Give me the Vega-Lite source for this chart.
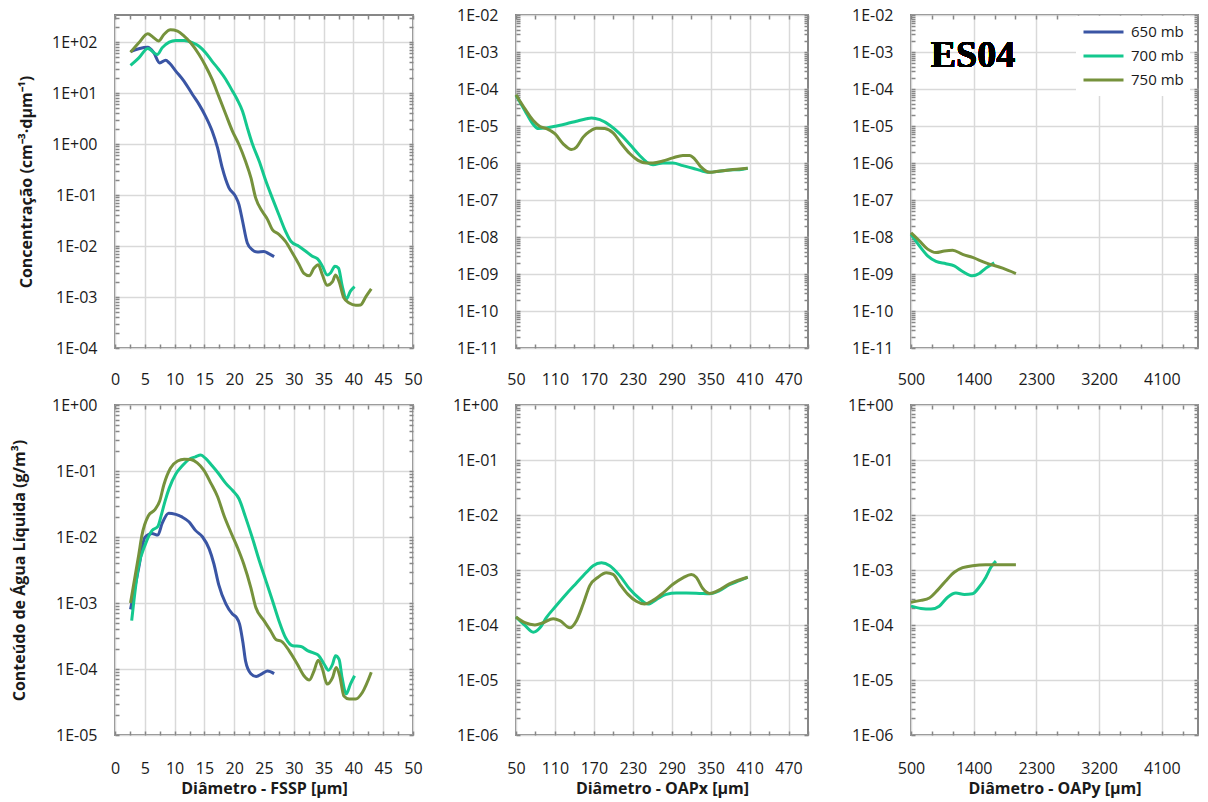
{
"$schema": "https://vega.github.io/schema/vega-lite/v6.json",
"background": "white",
"padding": {"left": 10, "top": 6, "right": 5, "bottom": 5},
"config": {
  "font": "Open Sans",
  "view": {"stroke": "#878787", "strokeWidth": 2},
  "axis": {"domain": false, "gridColor": "#D9D9D9", "gridWidth": 1.5, "tickColor": "#878787", "tickWidth": 1.5, "tickSize": -4, "labelFont": "Open Sans", "labelFontSize": 16, "labelColor": "#1a1a1a", "labelOverlap": false, "labelFlush": false, "titleFont": "Open Sans", "titleFontSize": 16, "titleFontWeight": "bold", "titleColor": "#1a1a1a"},
  "line": {"strokeWidth": 3, "interpolate": "monotone"}
},
"data": {"values": [
{"p":"c1","s":"650 mb","d":2.6,"v":65},{"p":"c1","s":"650 mb","d":4,"v":74},{"p":"c1","s":"650 mb","d":5.5,"v":79},{"p":"c1","s":"650 mb","d":6.5,"v":62},{"p":"c1","s":"650 mb","d":7.5,"v":39},{"p":"c1","s":"650 mb","d":8.5,"v":44},{"p":"c1","s":"650 mb","d":9.1,"v":39},{"p":"c1","s":"650 mb","d":10.2,"v":27},{"p":"c1","s":"650 mb","d":11.6,"v":17},{"p":"c1","s":"650 mb","d":13,"v":9.4},{"p":"c1","s":"650 mb","d":14.1,"v":6},{"p":"c1","s":"650 mb","d":15.2,"v":3.5},{"p":"c1","s":"650 mb","d":16.3,"v":1.8},{"p":"c1","s":"650 mb","d":17.2,"v":0.85},{"p":"c1","s":"650 mb","d":18,"v":0.34},{"p":"c1","s":"650 mb","d":19.1,"v":0.14},{"p":"c1","s":"650 mb","d":20.2,"v":0.095},{"p":"c1","s":"650 mb","d":20.8,"v":0.065},{"p":"c1","s":"650 mb","d":21.4,"v":0.031},{"p":"c1","s":"650 mb","d":22.2,"v":0.0115},{"p":"c1","s":"650 mb","d":23,"v":0.0085},{"p":"c1","s":"650 mb","d":23.9,"v":0.0076},{"p":"c1","s":"650 mb","d":25,"v":0.0078},{"p":"c1","s":"650 mb","d":25.8,"v":0.0071},{"p":"c1","s":"650 mb","d":26.7,"v":0.0062},
{"p":"c1","s":"700 mb","d":2.6,"v":35},{"p":"c1","s":"700 mb","d":4,"v":49},{"p":"c1","s":"700 mb","d":5.5,"v":75},{"p":"c1","s":"700 mb","d":7.1,"v":57},{"p":"c1","s":"700 mb","d":7.9,"v":77},{"p":"c1","s":"700 mb","d":9.1,"v":100},{"p":"c1","s":"700 mb","d":10.2,"v":108},{"p":"c1","s":"700 mb","d":11.6,"v":108},{"p":"c1","s":"700 mb","d":13,"v":97},{"p":"c1","s":"700 mb","d":14.1,"v":83},{"p":"c1","s":"700 mb","d":15.2,"v":62},{"p":"c1","s":"700 mb","d":16.3,"v":42},{"p":"c1","s":"700 mb","d":17.4,"v":29},{"p":"c1","s":"700 mb","d":18.6,"v":18.5},{"p":"c1","s":"700 mb","d":19.7,"v":11},{"p":"c1","s":"700 mb","d":20.5,"v":7.5},{"p":"c1","s":"700 mb","d":21.4,"v":4.4},{"p":"c1","s":"700 mb","d":22.2,"v":2.1},{"p":"c1","s":"700 mb","d":23,"v":1.05},{"p":"c1","s":"700 mb","d":24.2,"v":0.46},{"p":"c1","s":"700 mb","d":25.3,"v":0.19},{"p":"c1","s":"700 mb","d":26.4,"v":0.087},{"p":"c1","s":"700 mb","d":27.5,"v":0.041},{"p":"c1","s":"700 mb","d":28.6,"v":0.0196},{"p":"c1","s":"700 mb","d":29.5,"v":0.0124},{"p":"c1","s":"700 mb","d":30.9,"v":0.0098},{"p":"c1","s":"700 mb","d":32,"v":0.0079},{"p":"c1","s":"700 mb","d":33.1,"v":0.0063},{"p":"c1","s":"700 mb","d":34,"v":0.0056},{"p":"c1","s":"700 mb","d":34.8,"v":0.004},{"p":"c1","s":"700 mb","d":35.6,"v":0.0027},{"p":"c1","s":"700 mb","d":36.2,"v":0.003},{"p":"c1","s":"700 mb","d":36.9,"v":0.004},{"p":"c1","s":"700 mb","d":37.5,"v":0.0037},{"p":"c1","s":"700 mb","d":38.1,"v":0.0017},{"p":"c1","s":"700 mb","d":38.8,"v":0.00091},{"p":"c1","s":"700 mb","d":39.5,"v":0.0013},{"p":"c1","s":"700 mb","d":40.2,"v":0.0016},
{"p":"c1","s":"750 mb","d":2.6,"v":63},{"p":"c1","s":"750 mb","d":4,"v":97},{"p":"c1","s":"750 mb","d":5.5,"v":146},{"p":"c1","s":"750 mb","d":6.4,"v":125},{"p":"c1","s":"750 mb","d":7.3,"v":105},{"p":"c1","s":"750 mb","d":8.2,"v":141},{"p":"c1","s":"750 mb","d":9.3,"v":174},{"p":"c1","s":"750 mb","d":10.5,"v":164},{"p":"c1","s":"750 mb","d":11.6,"v":131},{"p":"c1","s":"750 mb","d":12.7,"v":97},{"p":"c1","s":"750 mb","d":14.1,"v":57},{"p":"c1","s":"750 mb","d":15.2,"v":34},{"p":"c1","s":"750 mb","d":16.3,"v":18.5},{"p":"c1","s":"750 mb","d":17.4,"v":8.7},{"p":"c1","s":"750 mb","d":18.6,"v":3.8},{"p":"c1","s":"750 mb","d":19.7,"v":1.8},{"p":"c1","s":"750 mb","d":20.8,"v":0.98},{"p":"c1","s":"750 mb","d":21.9,"v":0.46},{"p":"c1","s":"750 mb","d":22.8,"v":0.22},{"p":"c1","s":"750 mb","d":23.6,"v":0.088},{"p":"c1","s":"750 mb","d":24.7,"v":0.048},{"p":"c1","s":"750 mb","d":25.6,"v":0.033},{"p":"c1","s":"750 mb","d":26.4,"v":0.021},{"p":"c1","s":"750 mb","d":27.5,"v":0.017},{"p":"c1","s":"750 mb","d":28.6,"v":0.0123},{"p":"c1","s":"750 mb","d":29.8,"v":0.0072},{"p":"c1","s":"750 mb","d":30.9,"v":0.0043},{"p":"c1","s":"750 mb","d":31.7,"v":0.0029},{"p":"c1","s":"750 mb","d":32.6,"v":0.0026},{"p":"c1","s":"750 mb","d":33.4,"v":0.0037},{"p":"c1","s":"750 mb","d":34.1,"v":0.0043},{"p":"c1","s":"750 mb","d":34.8,"v":0.0027},{"p":"c1","s":"750 mb","d":35.6,"v":0.0017},{"p":"c1","s":"750 mb","d":36.5,"v":0.002},{"p":"c1","s":"750 mb","d":37,"v":0.0027},{"p":"c1","s":"750 mb","d":37.6,"v":0.002},{"p":"c1","s":"750 mb","d":38.4,"v":0.00096},{"p":"c1","s":"750 mb","d":39.3,"v":0.00076},{"p":"c1","s":"750 mb","d":40.4,"v":0.00069},{"p":"c1","s":"750 mb","d":41.2,"v":0.0007},{"p":"c1","s":"750 mb","d":42.1,"v":0.00102},{"p":"c1","s":"750 mb","d":43,"v":0.00145},
{"p":"c2","s":"700 mb","d":50,"v":6.8e-5},{"p":"c2","s":"700 mb","d":63.8,"v":2.6e-5},{"p":"c2","s":"700 mb","d":76.6,"v":1.1e-5},{"p":"c2","s":"700 mb","d":84.3,"v":8.5e-6},{"p":"c2","s":"700 mb","d":97.1,"v":8.9e-6},{"p":"c2","s":"700 mb","d":112.5,"v":1.0e-5},{"p":"c2","s":"700 mb","d":127.9,"v":1.15e-5},{"p":"c2","s":"700 mb","d":143.2,"v":1.35e-5},{"p":"c2","s":"700 mb","d":158.6,"v":1.57e-5},{"p":"c2","s":"700 mb","d":166.3,"v":1.65e-5},{"p":"c2","s":"700 mb","d":179.1,"v":1.48e-5},{"p":"c2","s":"700 mb","d":194.5,"v":1.05e-5},{"p":"c2","s":"700 mb","d":209.8,"v":6.2e-6},{"p":"c2","s":"700 mb","d":225.2,"v":3.2e-6},{"p":"c2","s":"700 mb","d":240.6,"v":1.6e-6},{"p":"c2","s":"700 mb","d":253.4,"v":1.0e-6},{"p":"c2","s":"700 mb","d":261.1,"v":9e-7},{"p":"c2","s":"700 mb","d":276.4,"v":1.0e-6},{"p":"c2","s":"700 mb","d":291.8,"v":1.0e-6},{"p":"c2","s":"700 mb","d":307.2,"v":8.5e-7},{"p":"c2","s":"700 mb","d":322.5,"v":7.2e-7},{"p":"c2","s":"700 mb","d":337.9,"v":6e-7},{"p":"c2","s":"700 mb","d":348.2,"v":5.6e-7},{"p":"c2","s":"700 mb","d":363.5,"v":6e-7},{"p":"c2","s":"700 mb","d":378.9,"v":6.5e-7},{"p":"c2","s":"700 mb","d":394.3,"v":6.6e-7},{"p":"c2","s":"700 mb","d":407.1,"v":7.2e-7},
{"p":"c2","s":"750 mb","d":50,"v":7.0e-5},{"p":"c2","s":"750 mb","d":63.8,"v":2.9e-5},{"p":"c2","s":"750 mb","d":76.6,"v":1.4e-5},{"p":"c2","s":"750 mb","d":86.9,"v":9.7e-6},{"p":"c2","s":"750 mb","d":97.1,"v":8.5e-6},{"p":"c2","s":"750 mb","d":109.9,"v":6.2e-6},{"p":"c2","s":"750 mb","d":122.7,"v":3.3e-6},{"p":"c2","s":"750 mb","d":135.5,"v":2.3e-6},{"p":"c2","s":"750 mb","d":143.2,"v":2.7e-6},{"p":"c2","s":"750 mb","d":153.5,"v":5e-6},{"p":"c2","s":"750 mb","d":163.7,"v":7.2e-6},{"p":"c2","s":"750 mb","d":174,"v":8.7e-6},{"p":"c2","s":"750 mb","d":186.8,"v":8.5e-6},{"p":"c2","s":"750 mb","d":199.6,"v":6.5e-6},{"p":"c2","s":"750 mb","d":212.4,"v":3.3e-6},{"p":"c2","s":"750 mb","d":225.2,"v":1.8e-6},{"p":"c2","s":"750 mb","d":238,"v":1.18e-6},{"p":"c2","s":"750 mb","d":250.8,"v":1.0e-6},{"p":"c2","s":"750 mb","d":261.1,"v":1.0e-6},{"p":"c2","s":"750 mb","d":276.4,"v":1.13e-6},{"p":"c2","s":"750 mb","d":291.8,"v":1.38e-6},{"p":"c2","s":"750 mb","d":307.2,"v":1.6e-6},{"p":"c2","s":"750 mb","d":317.4,"v":1.6e-6},{"p":"c2","s":"750 mb","d":325.1,"v":1.3e-6},{"p":"c2","s":"750 mb","d":335.4,"v":7.7e-7},{"p":"c2","s":"750 mb","d":348.2,"v":5.6e-7},{"p":"c2","s":"750 mb","d":361,"v":6e-7},{"p":"c2","s":"750 mb","d":378.9,"v":6.5e-7},{"p":"c2","s":"750 mb","d":407.1,"v":7.2e-7},
{"p":"c3","s":"700 mb","d":500,"v":1.2e-8},{"p":"c3","s":"700 mb","d":620,"v":5.8e-9},{"p":"c3","s":"700 mb","d":739,"v":3.1e-9},{"p":"c3","s":"700 mb","d":859,"v":2.2e-9},{"p":"c3","s":"700 mb","d":1002,"v":1.9e-9},{"p":"c3","s":"700 mb","d":1121,"v":1.65e-9},{"p":"c3","s":"700 mb","d":1241,"v":1.17e-9},{"p":"c3","s":"700 mb","d":1384,"v":8.9e-10},{"p":"c3","s":"700 mb","d":1480,"v":1.03e-9},{"p":"c3","s":"700 mb","d":1575,"v":1.44e-9},{"p":"c3","s":"700 mb","d":1695,"v":2.0e-9},
{"p":"c3","s":"750 mb","d":500,"v":1.3e-8},{"p":"c3","s":"750 mb","d":620,"v":7.9e-9},{"p":"c3","s":"750 mb","d":739,"v":4.7e-9},{"p":"c3","s":"750 mb","d":859,"v":3.8e-9},{"p":"c3","s":"750 mb","d":978,"v":4.2e-9},{"p":"c3","s":"750 mb","d":1098,"v":4.4e-9},{"p":"c3","s":"750 mb","d":1241,"v":3.4e-9},{"p":"c3","s":"750 mb","d":1384,"v":2.8e-9},{"p":"c3","s":"750 mb","d":1575,"v":2.0e-9},{"p":"c3","s":"750 mb","d":1815,"v":1.44e-9},{"p":"c3","s":"750 mb","d":2006,"v":1.03e-9},
{"p":"w1","s":"650 mb","d":2.6,"v":0.0008},{"p":"w1","s":"650 mb","d":4,"v":0.0035},{"p":"w1","s":"650 mb","d":5,"v":0.0098},{"p":"w1","s":"650 mb","d":6.2,"v":0.0113},{"p":"w1","s":"650 mb","d":7.2,"v":0.0107},{"p":"w1","s":"650 mb","d":7.9,"v":0.016},{"p":"w1","s":"650 mb","d":9,"v":0.023},{"p":"w1","s":"650 mb","d":10.2,"v":0.022},{"p":"w1","s":"650 mb","d":11.3,"v":0.02},{"p":"w1","s":"650 mb","d":12.4,"v":0.017},{"p":"w1","s":"650 mb","d":13.5,"v":0.0126},{"p":"w1","s":"650 mb","d":14.7,"v":0.01},{"p":"w1","s":"650 mb","d":15.8,"v":0.0066},{"p":"w1","s":"650 mb","d":16.6,"v":0.0039},{"p":"w1","s":"650 mb","d":17.4,"v":0.0019},{"p":"w1","s":"650 mb","d":18.6,"v":0.00097},{"p":"w1","s":"650 mb","d":19.7,"v":0.00068},{"p":"w1","s":"650 mb","d":20.4,"v":0.0006},{"p":"w1","s":"650 mb","d":20.9,"v":0.00048},{"p":"w1","s":"650 mb","d":21.5,"v":0.00024},{"p":"w1","s":"650 mb","d":21.9,"v":0.000133},{"p":"w1","s":"650 mb","d":22.8,"v":0.000085},{"p":"w1","s":"650 mb","d":23.7,"v":0.000077},{"p":"w1","s":"650 mb","d":24.7,"v":0.000085},{"p":"w1","s":"650 mb","d":25.6,"v":0.000093},{"p":"w1","s":"650 mb","d":26.7,"v":0.000085},
{"p":"w1","s":"700 mb","d":2.8,"v":0.00054},{"p":"w1","s":"700 mb","d":3.9,"v":0.0034},{"p":"w1","s":"700 mb","d":5.1,"v":0.0078},{"p":"w1","s":"700 mb","d":6.2,"v":0.0125},{"p":"w1","s":"700 mb","d":7.2,"v":0.0145},{"p":"w1","s":"700 mb","d":7.8,"v":0.022},{"p":"w1","s":"700 mb","d":8.4,"v":0.035},{"p":"w1","s":"700 mb","d":9.1,"v":0.055},{"p":"w1","s":"700 mb","d":10.2,"v":0.09},{"p":"w1","s":"700 mb","d":11.3,"v":0.12},{"p":"w1","s":"700 mb","d":12.4,"v":0.15},{"p":"w1","s":"700 mb","d":13.5,"v":0.164},{"p":"w1","s":"700 mb","d":14.4,"v":0.174},{"p":"w1","s":"700 mb","d":15.2,"v":0.155},{"p":"w1","s":"700 mb","d":16.3,"v":0.12},{"p":"w1","s":"700 mb","d":17.4,"v":0.091},{"p":"w1","s":"700 mb","d":18.6,"v":0.065},{"p":"w1","s":"700 mb","d":19.7,"v":0.051},{"p":"w1","s":"700 mb","d":20.8,"v":0.038},{"p":"w1","s":"700 mb","d":21.9,"v":0.02},{"p":"w1","s":"700 mb","d":23,"v":0.01},{"p":"w1","s":"700 mb","d":24.2,"v":0.0044},{"p":"w1","s":"700 mb","d":25.3,"v":0.0022},{"p":"w1","s":"700 mb","d":26.4,"v":0.0011},{"p":"w1","s":"700 mb","d":27.5,"v":0.00054},{"p":"w1","s":"700 mb","d":28.6,"v":0.0003},{"p":"w1","s":"700 mb","d":29.8,"v":0.000225},{"p":"w1","s":"700 mb","d":31.2,"v":0.00022},{"p":"w1","s":"700 mb","d":32.3,"v":0.00019},{"p":"w1","s":"700 mb","d":33.4,"v":0.000174},{"p":"w1","s":"700 mb","d":34.2,"v":0.000159},{"p":"w1","s":"700 mb","d":35.1,"v":0.000118},{"p":"w1","s":"700 mb","d":35.8,"v":0.000096},{"p":"w1","s":"700 mb","d":36.5,"v":0.000118},{"p":"w1","s":"700 mb","d":37,"v":0.000159},{"p":"w1","s":"700 mb","d":37.6,"v":0.00014},{"p":"w1","s":"700 mb","d":38.1,"v":0.000074},{"p":"w1","s":"700 mb","d":38.8,"v":0.000042},{"p":"w1","s":"700 mb","d":39.5,"v":0.000059},{"p":"w1","s":"700 mb","d":40.2,"v":0.000079},
{"p":"w1","s":"750 mb","d":2.6,"v":0.001},{"p":"w1","s":"750 mb","d":4,"v":0.0055},{"p":"w1","s":"750 mb","d":4.5,"v":0.0104},{"p":"w1","s":"750 mb","d":5.6,"v":0.021},{"p":"w1","s":"750 mb","d":6.7,"v":0.026},{"p":"w1","s":"750 mb","d":7.5,"v":0.035},{"p":"w1","s":"750 mb","d":8.2,"v":0.062},{"p":"w1","s":"750 mb","d":9.3,"v":0.11},{"p":"w1","s":"750 mb","d":10.5,"v":0.142},{"p":"w1","s":"750 mb","d":11.6,"v":0.151},{"p":"w1","s":"750 mb","d":12.7,"v":0.149},{"p":"w1","s":"750 mb","d":13.8,"v":0.133},{"p":"w1","s":"750 mb","d":14.9,"v":0.103},{"p":"w1","s":"750 mb","d":16.1,"v":0.065},{"p":"w1","s":"750 mb","d":17.2,"v":0.041},{"p":"w1","s":"750 mb","d":18.3,"v":0.021},{"p":"w1","s":"750 mb","d":19.4,"v":0.012},{"p":"w1","s":"750 mb","d":20.5,"v":0.0071},{"p":"w1","s":"750 mb","d":21.6,"v":0.0039},{"p":"w1","s":"750 mb","d":22.8,"v":0.0017},{"p":"w1","s":"750 mb","d":23.6,"v":0.00087},{"p":"w1","s":"750 mb","d":25,"v":0.00054},{"p":"w1","s":"750 mb","d":26.1,"v":0.00038},{"p":"w1","s":"750 mb","d":27,"v":0.00028},{"p":"w1","s":"750 mb","d":28,"v":0.00026},{"p":"w1","s":"750 mb","d":29.2,"v":0.00019},{"p":"w1","s":"750 mb","d":30.6,"v":0.000118},{"p":"w1","s":"750 mb","d":31.7,"v":0.000079},{"p":"w1","s":"750 mb","d":32.6,"v":0.000068},{"p":"w1","s":"750 mb","d":33.4,"v":0.000094},{"p":"w1","s":"750 mb","d":34.1,"v":0.000136},{"p":"w1","s":"750 mb","d":34.8,"v":0.0001},{"p":"w1","s":"750 mb","d":35.6,"v":0.000059},{"p":"w1","s":"750 mb","d":36.5,"v":0.000074},{"p":"w1","s":"750 mb","d":37.1,"v":0.000105},{"p":"w1","s":"750 mb","d":37.7,"v":0.000079},{"p":"w1","s":"750 mb","d":38.4,"v":0.000039},{"p":"w1","s":"750 mb","d":39.3,"v":0.000035},{"p":"w1","s":"750 mb","d":40.4,"v":0.000035},{"p":"w1","s":"750 mb","d":41.5,"v":0.000044},{"p":"w1","s":"750 mb","d":43,"v":0.000089},
{"p":"w2","s":"700 mb","d":50,"v":1.4e-4},{"p":"w2","s":"700 mb","d":63.8,"v":9.8e-5},{"p":"w2","s":"700 mb","d":76.6,"v":7.4e-5},{"p":"w2","s":"700 mb","d":86.9,"v":8.9e-5},{"p":"w2","s":"700 mb","d":97.1,"v":1.38e-4},{"p":"w2","s":"700 mb","d":109.9,"v":2.1e-4},{"p":"w2","s":"700 mb","d":127.9,"v":3.7e-4},{"p":"w2","s":"700 mb","d":143.2,"v":5.8e-4},{"p":"w2","s":"700 mb","d":158.6,"v":9.1e-4},{"p":"w2","s":"700 mb","d":168.9,"v":1.2e-3},{"p":"w2","s":"700 mb","d":181.7,"v":1.35e-3},{"p":"w2","s":"700 mb","d":194.5,"v":1.2e-3},{"p":"w2","s":"700 mb","d":209.8,"v":7.9e-4},{"p":"w2","s":"700 mb","d":225.2,"v":4.5e-4},{"p":"w2","s":"700 mb","d":240.6,"v":3e-4},{"p":"w2","s":"700 mb","d":253.4,"v":2.4e-4},{"p":"w2","s":"700 mb","d":266.2,"v":2.9e-4},{"p":"w2","s":"700 mb","d":281.6,"v":3.6e-4},{"p":"w2","s":"700 mb","d":296.9,"v":3.8e-4},{"p":"w2","s":"700 mb","d":312.3,"v":3.8e-4},{"p":"w2","s":"700 mb","d":332.8,"v":3.75e-4},{"p":"w2","s":"700 mb","d":348.2,"v":3.7e-4},{"p":"w2","s":"700 mb","d":363.5,"v":4.2e-4},{"p":"w2","s":"700 mb","d":378.9,"v":5.4e-4},{"p":"w2","s":"700 mb","d":394.3,"v":6.4e-4},{"p":"w2","s":"700 mb","d":407.1,"v":7.4e-4},
{"p":"w2","s":"750 mb","d":50,"v":1.4e-4},{"p":"w2","s":"750 mb","d":63.8,"v":1.1e-4},{"p":"w2","s":"750 mb","d":79.2,"v":1.0e-4},{"p":"w2","s":"750 mb","d":91.9,"v":1.1e-4},{"p":"w2","s":"750 mb","d":107.3,"v":1.3e-4},{"p":"w2","s":"750 mb","d":117.6,"v":1.2e-4},{"p":"w2","s":"750 mb","d":133,"v":8.9e-5},{"p":"w2","s":"750 mb","d":143.2,"v":1.2e-4},{"p":"w2","s":"750 mb","d":153.5,"v":2.4e-4},{"p":"w2","s":"750 mb","d":163.7,"v":5.2e-4},{"p":"w2","s":"750 mb","d":176.5,"v":7.4e-4},{"p":"w2","s":"750 mb","d":189.3,"v":8.9e-4},{"p":"w2","s":"750 mb","d":199.6,"v":8.3e-4},{"p":"w2","s":"750 mb","d":209.8,"v":5.6e-4},{"p":"w2","s":"750 mb","d":222.6,"v":3.6e-4},{"p":"w2","s":"750 mb","d":235.4,"v":2.7e-4},{"p":"w2","s":"750 mb","d":248.2,"v":2.4e-4},{"p":"w2","s":"750 mb","d":261.1,"v":2.8e-4},{"p":"w2","s":"750 mb","d":276.4,"v":3.8e-4},{"p":"w2","s":"750 mb","d":291.8,"v":5.5e-4},{"p":"w2","s":"750 mb","d":307.2,"v":7.2e-4},{"p":"w2","s":"750 mb","d":320,"v":8.3e-4},{"p":"w2","s":"750 mb","d":327.7,"v":7.4e-4},{"p":"w2","s":"750 mb","d":337.9,"v":4.6e-4},{"p":"w2","s":"750 mb","d":348.2,"v":3.75e-4},{"p":"w2","s":"750 mb","d":361,"v":4.2e-4},{"p":"w2","s":"750 mb","d":378.9,"v":5.6e-4},{"p":"w2","s":"750 mb","d":407.1,"v":7.4e-4},
{"p":"w3","s":"700 mb","d":500,"v":2.2e-4},{"p":"w3","s":"700 mb","d":643,"v":2.0e-4},{"p":"w3","s":"700 mb","d":787,"v":1.95e-4},{"p":"w3","s":"700 mb","d":906,"v":2.2e-4},{"p":"w3","s":"700 mb","d":1026,"v":3.2e-4},{"p":"w3","s":"700 mb","d":1145,"v":3.8e-4},{"p":"w3","s":"700 mb","d":1265,"v":3.6e-4},{"p":"w3","s":"700 mb","d":1384,"v":3.7e-4},{"p":"w3","s":"700 mb","d":1480,"v":4.9e-4},{"p":"w3","s":"700 mb","d":1575,"v":7.4e-4},{"p":"w3","s":"700 mb","d":1647,"v":1.12e-3},{"p":"w3","s":"700 mb","d":1719,"v":1.45e-3},
{"p":"w3","s":"750 mb","d":500,"v":2.6e-4},{"p":"w3","s":"750 mb","d":643,"v":2.8e-4},{"p":"w3","s":"750 mb","d":763,"v":3.1e-4},{"p":"w3","s":"750 mb","d":882,"v":4.3e-4},{"p":"w3","s":"750 mb","d":1002,"v":6.4e-4},{"p":"w3","s":"750 mb","d":1121,"v":9.1e-4},{"p":"w3","s":"750 mb","d":1241,"v":1.1e-3},{"p":"w3","s":"750 mb","d":1384,"v":1.2e-3},{"p":"w3","s":"750 mb","d":1575,"v":1.24e-3},{"p":"w3","s":"750 mb","d":1815,"v":1.24e-3},{"p":"w3","s":"750 mb","d":2006,"v":1.24e-3}
]},
"columns": 3,
"bounds": "flush",
"spacing": {"row": 57, "column": 103},
"resolve": {"legend": {"color": "independent"}},
"concat": [
{
 "width": 298, "height": 333,
 "transform": [{"filter": "datum.p == 'c1'"}],
 "layer": [
  {"mark": "line",
   "encoding": {
    "x": {"field": "d", "type": "quantitative", "scale": {"domain": [0, 50], "nice": false, "zero": false}, "axis": {"title": null, "format": "d", "labelPadding": 27, "values": [0,2.5,5,7.5,10,12.5,15,17.5,20,22.5,25,27.5,30,32.5,35,37.5,40,42.5,45,47.5,50], "labelExpr": "datum.value % 5 == 0 ? datum.label : ''", "gridOpacity": {"condition": {"test": "datum.value % 5 == 0", "value": 1}, "value": 0}}},
    "y": {"field": "v", "type": "quantitative", "scale": {"type": "log", "domain": [0.0001, 340], "nice": false}, "axis": {"title": "Concentração (cm⁻³·dµm⁻¹)", "titlePadding": 17, "labelPadding": 22, "values": [0.0001,0.0002,0.0003,0.0004,0.0005,0.0006,0.0007,0.0008,0.0009,0.001,0.002,0.003,0.004,0.005,0.006,0.007,0.008,0.009,0.01,0.02,0.03,0.04,0.05,0.06,0.07,0.08,0.09,0.1,0.2,0.3,0.4,0.5,0.6,0.7,0.8,0.9,1,2,3,4,5,6,7,8,9,10,20,30,40,50,60,70,80,90,100,200,300], "labelExpr": "abs(log(datum.value)/LN10 - round(log(datum.value)/LN10)) < 0.01 ? ('1E' + (round(log(datum.value)/LN10) < 0 ? '-' : '+') + (abs(round(log(datum.value)/LN10)) < 10 ? '0' : '') + abs(round(log(datum.value)/LN10))) : ''", "gridOpacity": {"condition": {"test": "abs(log(datum.value)/LN10 - round(log(datum.value)/LN10)) < 0.01", "value": 1}, "value": 0}}},
    "color": {"field": "s", "type": "nominal", "scale": {"domain": ["650 mb", "700 mb", "750 mb"], "range": ["#3A55A4", "#14C88E", "#76923C"]}, "legend": null}
   }},
  {"mark": {"type": "point", "opacity": 0},
   "encoding": {
    "x": {"field": "d", "type": "quantitative", "scale": {"domain": [0, 50], "nice": false, "zero": false}, "axis": {"orient": "top", "title": null, "labels": false, "grid": false, "values": [0,2.5,5,7.5,10,12.5,15,17.5,20,22.5,25,27.5,30,32.5,35,37.5,40,42.5,45,47.5,50]}},
    "y": {"field": "v", "type": "quantitative", "scale": {"type": "log", "domain": [0.0001, 340], "nice": false}, "axis": {"orient": "right", "title": null, "labels": false, "grid": false, "values": [0.0001,0.0002,0.0003,0.0004,0.0005,0.0006,0.0007,0.0008,0.0009,0.001,0.002,0.003,0.004,0.005,0.006,0.007,0.008,0.009,0.01,0.02,0.03,0.04,0.05,0.06,0.07,0.08,0.09,0.1,0.2,0.3,0.4,0.5,0.6,0.7,0.8,0.9,1,2,3,4,5,6,7,8,9,10,20,30,40,50,60,70,80,90,100,200,300]}}
   }}
 ],
 "resolve": {"axis": {"x": "independent", "y": "independent"}}
},
{
 "width": 292, "height": 333,
 "transform": [{"filter": "datum.p == 'c2'"}],
 "layer": [
  {"mark": "line",
   "encoding": {
    "x": {"field": "d", "type": "quantitative", "scale": {"domain": [50, 500], "nice": false, "zero": false}, "axis": {"title": null, "format": "d", "labelPadding": 27, "values": [50,80,110,140,170,200,230,260,290,320,350,380,410,440,470,500], "labelExpr": "(datum.value - 50) % 60 == 0 ? datum.label : ''", "gridOpacity": {"condition": {"test": "(datum.value - 50) % 60 == 0", "value": 1}, "value": 0}}},
    "y": {"field": "v", "type": "quantitative", "scale": {"type": "log", "domain": [1e-11, 0.01], "nice": false}, "axis": {"title": null, "labelPadding": 22, "values": [1e-11,2e-11,3e-11,4e-11,5e-11,6e-11,7e-11,8e-11,9e-11,1e-10,2e-10,3e-10,4e-10,5e-10,6e-10,7e-10,8e-10,9e-10,1e-9,2e-9,3e-9,4e-9,5e-9,6e-9,7e-9,8e-9,9e-9,1e-8,2e-8,3e-8,4e-8,5e-8,6e-8,7e-8,8e-8,9e-8,1e-7,2e-7,3e-7,4e-7,5e-7,6e-7,7e-7,8e-7,9e-7,1e-6,2e-6,3e-6,4e-6,5e-6,6e-6,7e-6,8e-6,9e-6,1e-5,2e-5,3e-5,4e-5,5e-5,6e-5,7e-5,8e-5,9e-5,1e-4,2e-4,3e-4,4e-4,5e-4,6e-4,7e-4,8e-4,9e-4,1e-3,2e-3,3e-3,4e-3,5e-3,6e-3,7e-3,8e-3,9e-3,1e-2], "labelExpr": "abs(log(datum.value)/LN10 - round(log(datum.value)/LN10)) < 0.01 ? ('1E' + (round(log(datum.value)/LN10) < 0 ? '-' : '+') + (abs(round(log(datum.value)/LN10)) < 10 ? '0' : '') + abs(round(log(datum.value)/LN10))) : ''", "gridOpacity": {"condition": {"test": "abs(log(datum.value)/LN10 - round(log(datum.value)/LN10)) < 0.01", "value": 1}, "value": 0}}},
    "color": {"field": "s", "type": "nominal", "scale": {"domain": ["650 mb", "700 mb", "750 mb"], "range": ["#3A55A4", "#14C88E", "#76923C"]}, "legend": null}
   }},
  {"mark": {"type": "point", "opacity": 0},
   "encoding": {
    "x": {"field": "d", "type": "quantitative", "scale": {"domain": [50, 500], "nice": false, "zero": false}, "axis": {"orient": "top", "title": null, "labels": false, "grid": false, "values": [50,80,110,140,170,200,230,260,290,320,350,380,410,440,470,500]}},
    "y": {"field": "v", "type": "quantitative", "scale": {"type": "log", "domain": [1e-11, 0.01], "nice": false}, "axis": {"orient": "right", "title": null, "labels": false, "grid": false, "values": [1e-11,2e-11,3e-11,4e-11,5e-11,6e-11,7e-11,8e-11,9e-11,1e-10,2e-10,3e-10,4e-10,5e-10,6e-10,7e-10,8e-10,9e-10,1e-9,2e-9,3e-9,4e-9,5e-9,6e-9,7e-9,8e-9,9e-9,1e-8,2e-8,3e-8,4e-8,5e-8,6e-8,7e-8,8e-8,9e-8,1e-7,2e-7,3e-7,4e-7,5e-7,6e-7,7e-7,8e-7,9e-7,1e-6,2e-6,3e-6,4e-6,5e-6,6e-6,7e-6,8e-6,9e-6,1e-5,2e-5,3e-5,4e-5,5e-5,6e-5,7e-5,8e-5,9e-5,1e-4,2e-4,3e-4,4e-4,5e-4,6e-4,7e-4,8e-4,9e-4,1e-3,2e-3,3e-3,4e-3,5e-3,6e-3,7e-3,8e-3,9e-3,1e-2]}}
   }}
 ],
 "resolve": {"axis": {"x": "independent", "y": "independent"}}
},
{
 "width": 287, "height": 333,
 "transform": [{"filter": "datum.p == 'c3'"}],
 "layer": [
  {"mark": "line",
   "encoding": {
    "x": {"field": "d", "type": "quantitative", "scale": {"domain": [500, 4620], "nice": false, "zero": false}, "axis": {"title": null, "format": "d", "labelPadding": 27, "values": [500,800,1100,1400,1700,2000,2300,2600,2900,3200,3500,3800,4100,4400], "labelExpr": "(datum.value - 500) % 900 == 0 ? datum.label : ''", "gridOpacity": {"condition": {"test": "(datum.value - 500) % 900 == 0", "value": 1}, "value": 0}}},
    "y": {"field": "v", "type": "quantitative", "scale": {"type": "log", "domain": [1e-11, 0.01], "nice": false}, "axis": {"title": null, "labelPadding": 22, "values": [1e-11,2e-11,3e-11,4e-11,5e-11,6e-11,7e-11,8e-11,9e-11,1e-10,2e-10,3e-10,4e-10,5e-10,6e-10,7e-10,8e-10,9e-10,1e-9,2e-9,3e-9,4e-9,5e-9,6e-9,7e-9,8e-9,9e-9,1e-8,2e-8,3e-8,4e-8,5e-8,6e-8,7e-8,8e-8,9e-8,1e-7,2e-7,3e-7,4e-7,5e-7,6e-7,7e-7,8e-7,9e-7,1e-6,2e-6,3e-6,4e-6,5e-6,6e-6,7e-6,8e-6,9e-6,1e-5,2e-5,3e-5,4e-5,5e-5,6e-5,7e-5,8e-5,9e-5,1e-4,2e-4,3e-4,4e-4,5e-4,6e-4,7e-4,8e-4,9e-4,1e-3,2e-3,3e-3,4e-3,5e-3,6e-3,7e-3,8e-3,9e-3,1e-2], "labelExpr": "abs(log(datum.value)/LN10 - round(log(datum.value)/LN10)) < 0.01 ? ('1E' + (round(log(datum.value)/LN10) < 0 ? '-' : '+') + (abs(round(log(datum.value)/LN10)) < 10 ? '0' : '') + abs(round(log(datum.value)/LN10))) : ''", "gridOpacity": {"condition": {"test": "abs(log(datum.value)/LN10 - round(log(datum.value)/LN10)) < 0.01", "value": 1}, "value": 0}}},
    "color": {"field": "s", "type": "nominal", "scale": {"domain": ["650 mb", "700 mb", "750 mb"], "range": ["#3A55A4", "#14C88E", "#76923C"]}, "legend": {"orient": "none", "legendX": 165, "legendY": 1, "title": null, "symbolType": "stroke", "symbolSize": 1600, "symbolStrokeWidth": 3, "clipHeight": 20, "rowPadding": 4, "padding": 6, "labelOffset": 6, "labelFont": "Open Sans", "labelFontSize": 15, "labelColor": "#1a1a1a", "fillColor": "white"}}
   }},
  {"mark": {"type": "point", "opacity": 0},
   "encoding": {
    "x": {"field": "d", "type": "quantitative", "scale": {"domain": [500, 4620], "nice": false, "zero": false}, "axis": {"orient": "top", "title": null, "labels": false, "grid": false, "values": [500,800,1100,1400,1700,2000,2300,2600,2900,3200,3500,3800,4100,4400]}},
    "y": {"field": "v", "type": "quantitative", "scale": {"type": "log", "domain": [1e-11, 0.01], "nice": false}, "axis": {"orient": "right", "title": null, "labels": false, "grid": false, "values": [1e-11,2e-11,3e-11,4e-11,5e-11,6e-11,7e-11,8e-11,9e-11,1e-10,2e-10,3e-10,4e-10,5e-10,6e-10,7e-10,8e-10,9e-10,1e-9,2e-9,3e-9,4e-9,5e-9,6e-9,7e-9,8e-9,9e-9,1e-8,2e-8,3e-8,4e-8,5e-8,6e-8,7e-8,8e-8,9e-8,1e-7,2e-7,3e-7,4e-7,5e-7,6e-7,7e-7,8e-7,9e-7,1e-6,2e-6,3e-6,4e-6,5e-6,6e-6,7e-6,8e-6,9e-6,1e-5,2e-5,3e-5,4e-5,5e-5,6e-5,7e-5,8e-5,9e-5,1e-4,2e-4,3e-4,4e-4,5e-4,6e-4,7e-4,8e-4,9e-4,1e-3,2e-3,3e-3,4e-3,5e-3,6e-3,7e-3,8e-3,9e-3,1e-2]}}
   }},
  {"mark": {"type": "text", "font": "Liberation Serif", "fontWeight": "bold", "fontSize": 38, "color": "black", "align": "center", "baseline": "middle"},
   "encoding": {"x": {"datum": 1390, "type": "quantitative", "axis": null}, "y": {"datum": 0.00078, "type": "quantitative", "axis": null}, "text": {"value": "ES04"}}}
 ],
 "resolve": {"axis": {"x": "independent", "y": "independent"}}
},
{
 "width": 298, "height": 330,
 "transform": [{"filter": "datum.p == 'w1'"}],
 "layer": [
  {"mark": "line",
   "encoding": {
    "x": {"field": "d", "type": "quantitative", "scale": {"domain": [0, 50], "nice": false, "zero": false}, "axis": {"title": "Diâmetro - FSSP [µm]", "titlePadding": 4, "format": "d", "labelPadding": 29, "values": [0,2.5,5,7.5,10,12.5,15,17.5,20,22.5,25,27.5,30,32.5,35,37.5,40,42.5,45,47.5,50], "labelExpr": "datum.value % 5 == 0 ? datum.label : ''", "gridOpacity": {"condition": {"test": "datum.value % 5 == 0", "value": 1}, "value": 0}}},
    "y": {"field": "v", "type": "quantitative", "scale": {"type": "log", "domain": [0.00001, 1], "nice": false}, "axis": {"title": "Conteúdo de Água Líquida (g/m³)", "titlePadding": 24, "labelPadding": 22, "values": [1e-5,2e-5,3e-5,4e-5,5e-5,6e-5,7e-5,8e-5,9e-5,1e-4,2e-4,3e-4,4e-4,5e-4,6e-4,7e-4,8e-4,9e-4,1e-3,2e-3,3e-3,4e-3,5e-3,6e-3,7e-3,8e-3,9e-3,0.01,0.02,0.03,0.04,0.05,0.06,0.07,0.08,0.09,0.1,0.2,0.3,0.4,0.5,0.6,0.7,0.8,0.9,1], "labelExpr": "abs(log(datum.value)/LN10 - round(log(datum.value)/LN10)) < 0.01 ? ('1E' + (round(log(datum.value)/LN10) < 0 ? '-' : '+') + (abs(round(log(datum.value)/LN10)) < 10 ? '0' : '') + abs(round(log(datum.value)/LN10))) : ''", "gridOpacity": {"condition": {"test": "abs(log(datum.value)/LN10 - round(log(datum.value)/LN10)) < 0.01", "value": 1}, "value": 0}}},
    "color": {"field": "s", "type": "nominal", "scale": {"domain": ["650 mb", "700 mb", "750 mb"], "range": ["#3A55A4", "#14C88E", "#76923C"]}, "legend": null}
   }},
  {"mark": {"type": "point", "opacity": 0},
   "encoding": {
    "x": {"field": "d", "type": "quantitative", "scale": {"domain": [0, 50], "nice": false, "zero": false}, "axis": {"orient": "top", "title": null, "labels": false, "grid": false, "values": [0,2.5,5,7.5,10,12.5,15,17.5,20,22.5,25,27.5,30,32.5,35,37.5,40,42.5,45,47.5,50]}},
    "y": {"field": "v", "type": "quantitative", "scale": {"type": "log", "domain": [0.00001, 1], "nice": false}, "axis": {"orient": "right", "title": null, "labels": false, "grid": false, "values": [1e-5,2e-5,3e-5,4e-5,5e-5,6e-5,7e-5,8e-5,9e-5,1e-4,2e-4,3e-4,4e-4,5e-4,6e-4,7e-4,8e-4,9e-4,1e-3,2e-3,3e-3,4e-3,5e-3,6e-3,7e-3,8e-3,9e-3,0.01,0.02,0.03,0.04,0.05,0.06,0.07,0.08,0.09,0.1,0.2,0.3,0.4,0.5,0.6,0.7,0.8,0.9,1]}}
   }}
 ],
 "resolve": {"axis": {"x": "independent", "y": "independent"}}
},
{
 "width": 292, "height": 330,
 "transform": [{"filter": "datum.p == 'w2'"}],
 "layer": [
  {"mark": "line",
   "encoding": {
    "x": {"field": "d", "type": "quantitative", "scale": {"domain": [50, 500], "nice": false, "zero": false}, "axis": {"title": "Diâmetro - OAPx [µm]", "titlePadding": 4, "format": "d", "labelPadding": 29, "values": [50,80,110,140,170,200,230,260,290,320,350,380,410,440,470,500], "labelExpr": "(datum.value - 50) % 60 == 0 ? datum.label : ''", "gridOpacity": {"condition": {"test": "(datum.value - 50) % 60 == 0", "value": 1}, "value": 0}}},
    "y": {"field": "v", "type": "quantitative", "scale": {"type": "log", "domain": [0.000001, 1], "nice": false}, "axis": {"title": null, "labelPadding": 22, "values": [1e-6,2e-6,3e-6,4e-6,5e-6,6e-6,7e-6,8e-6,9e-6,1e-5,2e-5,3e-5,4e-5,5e-5,6e-5,7e-5,8e-5,9e-5,1e-4,2e-4,3e-4,4e-4,5e-4,6e-4,7e-4,8e-4,9e-4,1e-3,2e-3,3e-3,4e-3,5e-3,6e-3,7e-3,8e-3,9e-3,0.01,0.02,0.03,0.04,0.05,0.06,0.07,0.08,0.09,0.1,0.2,0.3,0.4,0.5,0.6,0.7,0.8,0.9,1], "labelExpr": "abs(log(datum.value)/LN10 - round(log(datum.value)/LN10)) < 0.01 ? ('1E' + (round(log(datum.value)/LN10) < 0 ? '-' : '+') + (abs(round(log(datum.value)/LN10)) < 10 ? '0' : '') + abs(round(log(datum.value)/LN10))) : ''", "gridOpacity": {"condition": {"test": "abs(log(datum.value)/LN10 - round(log(datum.value)/LN10)) < 0.01", "value": 1}, "value": 0}}},
    "color": {"field": "s", "type": "nominal", "scale": {"domain": ["650 mb", "700 mb", "750 mb"], "range": ["#3A55A4", "#14C88E", "#76923C"]}, "legend": null}
   }},
  {"mark": {"type": "point", "opacity": 0},
   "encoding": {
    "x": {"field": "d", "type": "quantitative", "scale": {"domain": [50, 500], "nice": false, "zero": false}, "axis": {"orient": "top", "title": null, "labels": false, "grid": false, "values": [50,80,110,140,170,200,230,260,290,320,350,380,410,440,470,500]}},
    "y": {"field": "v", "type": "quantitative", "scale": {"type": "log", "domain": [0.000001, 1], "nice": false}, "axis": {"orient": "right", "title": null, "labels": false, "grid": false, "values": [1e-6,2e-6,3e-6,4e-6,5e-6,6e-6,7e-6,8e-6,9e-6,1e-5,2e-5,3e-5,4e-5,5e-5,6e-5,7e-5,8e-5,9e-5,1e-4,2e-4,3e-4,4e-4,5e-4,6e-4,7e-4,8e-4,9e-4,1e-3,2e-3,3e-3,4e-3,5e-3,6e-3,7e-3,8e-3,9e-3,0.01,0.02,0.03,0.04,0.05,0.06,0.07,0.08,0.09,0.1,0.2,0.3,0.4,0.5,0.6,0.7,0.8,0.9,1]}}
   }}
 ],
 "resolve": {"axis": {"x": "independent", "y": "independent"}}
},
{
 "width": 287, "height": 330,
 "transform": [{"filter": "datum.p == 'w3'"}],
 "layer": [
  {"mark": "line",
   "encoding": {
    "x": {"field": "d", "type": "quantitative", "scale": {"domain": [500, 4620], "nice": false, "zero": false}, "axis": {"title": "Diâmetro - OAPy [µm]", "titlePadding": 4, "format": "d", "labelPadding": 29, "values": [500,800,1100,1400,1700,2000,2300,2600,2900,3200,3500,3800,4100,4400], "labelExpr": "(datum.value - 500) % 900 == 0 ? datum.label : ''", "gridOpacity": {"condition": {"test": "(datum.value - 500) % 900 == 0", "value": 1}, "value": 0}}},
    "y": {"field": "v", "type": "quantitative", "scale": {"type": "log", "domain": [0.000001, 1], "nice": false}, "axis": {"title": null, "labelPadding": 22, "values": [1e-6,2e-6,3e-6,4e-6,5e-6,6e-6,7e-6,8e-6,9e-6,1e-5,2e-5,3e-5,4e-5,5e-5,6e-5,7e-5,8e-5,9e-5,1e-4,2e-4,3e-4,4e-4,5e-4,6e-4,7e-4,8e-4,9e-4,1e-3,2e-3,3e-3,4e-3,5e-3,6e-3,7e-3,8e-3,9e-3,0.01,0.02,0.03,0.04,0.05,0.06,0.07,0.08,0.09,0.1,0.2,0.3,0.4,0.5,0.6,0.7,0.8,0.9,1], "labelExpr": "abs(log(datum.value)/LN10 - round(log(datum.value)/LN10)) < 0.01 ? ('1E' + (round(log(datum.value)/LN10) < 0 ? '-' : '+') + (abs(round(log(datum.value)/LN10)) < 10 ? '0' : '') + abs(round(log(datum.value)/LN10))) : ''", "gridOpacity": {"condition": {"test": "abs(log(datum.value)/LN10 - round(log(datum.value)/LN10)) < 0.01", "value": 1}, "value": 0}}},
    "color": {"field": "s", "type": "nominal", "scale": {"domain": ["650 mb", "700 mb", "750 mb"], "range": ["#3A55A4", "#14C88E", "#76923C"]}, "legend": null}
   }},
  {"mark": {"type": "point", "opacity": 0},
   "encoding": {
    "x": {"field": "d", "type": "quantitative", "scale": {"domain": [500, 4620], "nice": false, "zero": false}, "axis": {"orient": "top", "title": null, "labels": false, "grid": false, "values": [500,800,1100,1400,1700,2000,2300,2600,2900,3200,3500,3800,4100,4400]}},
    "y": {"field": "v", "type": "quantitative", "scale": {"type": "log", "domain": [0.000001, 1], "nice": false}, "axis": {"orient": "right", "title": null, "labels": false, "grid": false, "values": [1e-6,2e-6,3e-6,4e-6,5e-6,6e-6,7e-6,8e-6,9e-6,1e-5,2e-5,3e-5,4e-5,5e-5,6e-5,7e-5,8e-5,9e-5,1e-4,2e-4,3e-4,4e-4,5e-4,6e-4,7e-4,8e-4,9e-4,1e-3,2e-3,3e-3,4e-3,5e-3,6e-3,7e-3,8e-3,9e-3,0.01,0.02,0.03,0.04,0.05,0.06,0.07,0.08,0.09,0.1,0.2,0.3,0.4,0.5,0.6,0.7,0.8,0.9,1]}}
   }}
 ],
 "resolve": {"axis": {"x": "independent", "y": "independent"}}
}
]
}
